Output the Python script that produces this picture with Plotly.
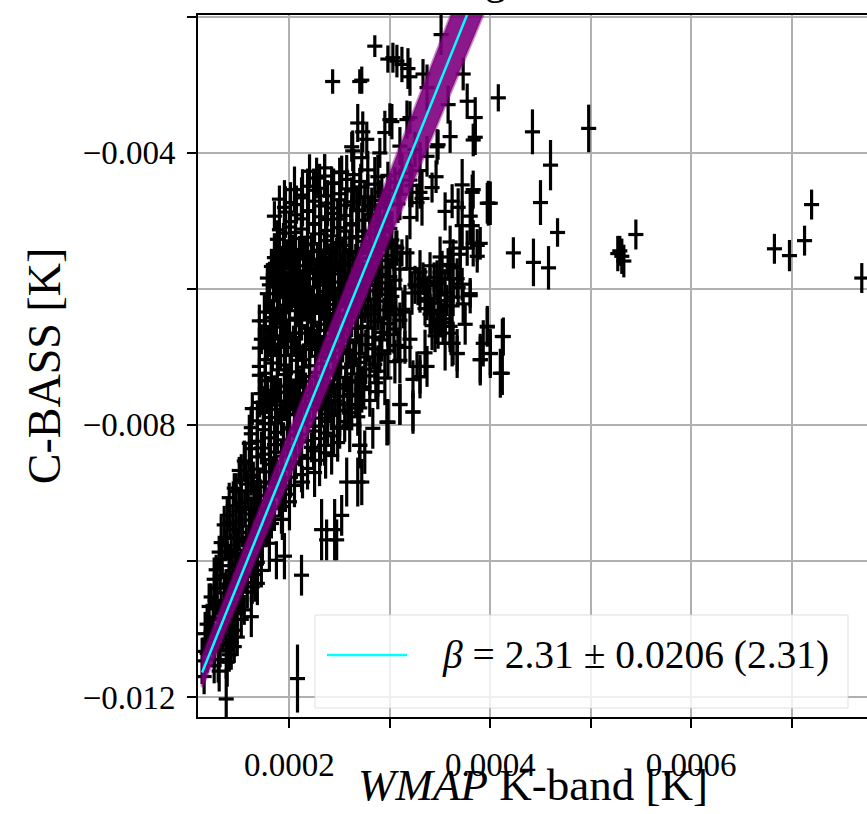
import plotly.graph_objects as go

# ---------------- data (Kelvin) ----------------
# dense part of the cloud, one list per horizontal band
wmap_rows = [
    [2.20e-4, 2.35e-4, 2.50e-4, 2.64e-4, 2.78e-4, 2.98e-4, 3.12e-4, 3.30e-4, 3.46e-4],
    [2.05e-4, 2.18e-4, 2.30e-4, 2.44e-4, 2.57e-4, 2.70e-4, 2.85e-4, 3.00e-4, 3.22e-4, 3.42e-4, 3.72e-4, 3.83e-4],
    [1.90e-4, 2.01e-4, 2.13e-4, 2.25e-4, 2.38e-4, 2.50e-4, 2.62e-4, 2.75e-4, 2.90e-4, 3.08e-4, 3.32e-4, 3.62e-4, 4.00e-4],
    [1.85e-4, 1.96e-4, 2.06e-4, 2.18e-4, 2.30e-4, 2.42e-4, 2.55e-4, 2.67e-4, 2.80e-4, 2.95e-4, 3.55e-4, 3.80e-4],
    [1.90e-4, 2.00e-4, 2.12e-4, 2.25e-4, 2.37e-4, 2.50e-4, 2.62e-4, 2.75e-4, 2.88e-4, 3.00e-4, 3.72e-4],
    [1.88e-4, 2.00e-4, 2.12e-4, 2.24e-4, 2.37e-4, 2.50e-4, 2.62e-4, 2.75e-4, 2.88e-4, 3.02e-4, 3.60e-4, 3.83e-4],
    [1.85e-4, 1.97e-4, 2.10e-4, 2.22e-4, 2.35e-4, 2.47e-4, 2.60e-4, 2.72e-4, 2.85e-4, 2.98e-4, 3.12e-4, 3.50e-4, 3.70e-4, 3.87e-4],
    [1.82e-4, 1.95e-4, 2.08e-4, 2.20e-4, 2.32e-4, 2.45e-4, 2.58e-4, 2.70e-4, 2.82e-4, 2.96e-4, 3.10e-4, 3.40e-4, 3.52e-4, 3.63e-4],
    [1.80e-4, 1.92e-4, 2.05e-4, 2.18e-4, 2.30e-4, 2.43e-4, 2.55e-4, 2.68e-4, 2.80e-4, 2.92e-4, 3.05e-4, 3.25e-4, 3.35e-4, 3.47e-4, 3.60e-4, 3.72e-4],
    [1.78e-4, 1.90e-4, 2.02e-4, 2.15e-4, 2.28e-4, 2.40e-4, 2.52e-4, 2.65e-4, 2.78e-4, 2.90e-4, 3.02e-4, 3.22e-4, 3.38e-4, 3.50e-4, 3.63e-4, 3.80e-4],
    [1.76e-4, 1.88e-4, 2.00e-4, 2.12e-4, 2.25e-4, 2.38e-4, 2.50e-4, 2.62e-4, 2.75e-4, 2.88e-4, 3.00e-4, 3.15e-4, 3.35e-4, 3.48e-4, 3.62e-4],
    [1.75e-4, 1.87e-4, 2.00e-4, 2.12e-4, 2.24e-4, 2.36e-4, 2.48e-4, 2.60e-4, 2.72e-4, 2.85e-4, 2.98e-4, 3.10e-4, 3.42e-4, 3.55e-4, 3.75e-4, 3.97e-4],
    [1.72e-4, 1.85e-4, 1.98e-4, 2.10e-4, 2.22e-4, 2.35e-4, 2.47e-4, 2.60e-4, 2.72e-4, 2.85e-4, 3.00e-4, 3.20e-4, 3.45e-4, 3.62e-4, 4.12e-4],
    [1.70e-4, 1.83e-4, 1.96e-4, 2.08e-4, 2.20e-4, 2.32e-4, 2.45e-4, 2.58e-4, 2.70e-4, 2.83e-4, 2.98e-4, 3.15e-4, 3.35e-4, 3.67e-4, 4.00e-4],
    [1.70e-4, 1.82e-4, 1.95e-4, 2.07e-4, 2.20e-4, 2.32e-4, 2.45e-4, 2.57e-4, 2.70e-4, 2.85e-4, 3.05e-4, 3.27e-4, 3.90e-4],
    [1.70e-4, 1.82e-4, 1.95e-4, 2.07e-4, 2.20e-4, 2.32e-4, 2.44e-4, 2.56e-4, 2.68e-4, 2.80e-4, 2.95e-4, 3.30e-4, 4.12e-4],
    [1.72e-4, 1.85e-4, 1.98e-4, 2.10e-4, 2.22e-4, 2.35e-4, 2.48e-4, 2.60e-4, 2.72e-4, 2.88e-4],
    [1.70e-4, 1.82e-4, 1.95e-4, 2.08e-4, 2.20e-4, 2.32e-4, 2.45e-4, 2.58e-4, 2.70e-4, 3.10e-4],
    [1.68e-4, 1.80e-4, 1.92e-4, 2.05e-4, 2.18e-4, 2.30e-4, 2.42e-4, 2.55e-4, 2.68e-4, 2.98e-4, 3.23e-4],
    [1.62e-4, 1.75e-4, 1.88e-4, 2.00e-4, 2.12e-4, 2.25e-4, 2.38e-4, 2.50e-4],
    [1.60e-4, 1.72e-4, 1.85e-4, 1.98e-4, 2.10e-4, 2.22e-4, 2.35e-4, 2.48e-4, 2.70e-4],
    [1.55e-4, 1.68e-4, 1.80e-4, 1.92e-4, 2.05e-4, 2.18e-4, 2.30e-4, 2.42e-4],
    [1.50e-4, 1.62e-4, 1.75e-4, 1.87e-4, 2.00e-4, 2.12e-4, 2.25e-4],
    [1.45e-4, 1.57e-4, 1.70e-4, 1.82e-4, 1.95e-4, 2.05e-4],
    [1.40e-4, 1.52e-4, 1.65e-4, 1.78e-4, 1.90e-4, 2.00e-4],
    [1.38e-4, 1.50e-4, 1.62e-4, 1.75e-4, 1.85e-4, 1.93e-4],
    [1.35e-4, 1.47e-4, 1.60e-4, 1.72e-4, 1.82e-4],
    [1.32e-4, 1.45e-4, 1.57e-4, 1.70e-4, 1.80e-4],
    [1.30e-4, 1.42e-4, 1.55e-4, 1.67e-4],
    [1.27e-4, 1.40e-4, 1.52e-4, 1.65e-4, 1.72e-4],
    [1.25e-4, 1.37e-4, 1.50e-4, 1.62e-4],
    [1.22e-4, 1.35e-4, 1.47e-4, 1.58e-4],
    [1.20e-4, 1.32e-4, 1.45e-4, 1.55e-4],
    [1.18e-4, 1.30e-4, 1.42e-4, 1.52e-4],
    [1.16e-4, 1.28e-4, 1.40e-4, 1.48e-4],
    [1.14e-4, 1.25e-4, 1.37e-4, 1.45e-4],
    [1.13e-4, 1.25e-4, 1.38e-4],
    [1.15e-4, 1.30e-4],
    [1.37e-4, 1.62e-4],
    # in-between bands
    [2.27e-4, 2.42e-4, 2.57e-4, 2.71e-4, 2.88e-4, 3.05e-4, 3.20e-4],
    [2.12e-4, 2.24e-4, 2.37e-4, 2.51e-4, 2.64e-4, 2.78e-4, 2.92e-4, 3.10e-4],
    [1.95e-4, 2.07e-4, 2.19e-4, 2.31e-4, 2.44e-4, 2.56e-4, 2.69e-4, 2.82e-4, 2.97e-4],
    [2.01e-4, 2.12e-4, 2.24e-4, 2.36e-4, 2.48e-4, 2.61e-4, 2.73e-4, 2.86e-4, 3.20e-4],
    [1.95e-4, 2.06e-4, 2.18e-4, 2.31e-4, 2.43e-4, 2.56e-4, 2.68e-4, 2.81e-4, 2.94e-4],
    [1.94e-4, 2.06e-4, 2.18e-4, 2.30e-4, 2.42e-4, 2.55e-4, 2.67e-4, 2.80e-4, 2.92e-4, 3.06e-4],
    [1.91e-4, 2.03e-4, 2.15e-4, 2.28e-4, 2.40e-4, 2.53e-4, 2.66e-4, 2.78e-4, 2.91e-4, 3.04e-4, 3.58e-4],
    [1.88e-4, 2.01e-4, 2.14e-4, 2.26e-4, 2.38e-4, 2.51e-4, 2.63e-4, 2.76e-4, 2.88e-4, 3.00e-4, 3.30e-4, 3.44e-4],
    [1.86e-4, 1.98e-4, 2.11e-4, 2.24e-4, 2.36e-4, 2.49e-4, 2.61e-4, 2.74e-4, 2.86e-4, 2.98e-4, 3.28e-4, 3.55e-4, 3.68e-4],
    [1.84e-4, 1.96e-4, 2.08e-4, 2.21e-4, 2.34e-4, 2.46e-4, 2.58e-4, 2.71e-4, 2.84e-4, 2.96e-4, 3.44e-4, 3.57e-4],
    [1.82e-4, 1.94e-4, 2.06e-4, 2.18e-4, 2.31e-4, 2.44e-4, 2.56e-4, 2.68e-4, 2.81e-4, 2.94e-4, 3.06e-4, 3.40e-4, 3.52e-4],
    [1.81e-4, 1.93e-4, 2.06e-4, 2.18e-4, 2.30e-4, 2.42e-4, 2.54e-4, 2.66e-4, 2.78e-4, 2.91e-4, 3.04e-4, 3.48e-4, 3.60e-4],
    [1.78e-4, 1.91e-4, 2.04e-4, 2.16e-4, 2.28e-4, 2.41e-4, 2.53e-4, 2.66e-4, 2.78e-4, 2.92e-4, 3.08e-4, 3.55e-4],
    [1.76e-4, 1.89e-4, 2.02e-4, 2.14e-4, 2.26e-4, 2.38e-4, 2.51e-4, 2.64e-4, 2.76e-4, 2.90e-4, 3.10e-4],
    [1.76e-4, 1.88e-4, 2.01e-4, 2.13e-4, 2.26e-4, 2.38e-4, 2.50e-4, 2.62e-4, 2.75e-4, 2.88e-4],
    [1.76e-4, 1.88e-4, 2.01e-4, 2.14e-4, 2.26e-4, 2.38e-4, 2.50e-4, 2.62e-4, 2.74e-4, 2.86e-4],
    [1.78e-4, 1.91e-4, 2.04e-4, 2.16e-4, 2.28e-4, 2.41e-4, 2.54e-4, 2.66e-4, 2.80e-4],
    [1.75e-4, 1.87e-4, 2.00e-4, 2.12e-4, 2.25e-4, 2.38e-4, 2.50e-4, 2.62e-4],
    [1.62e-4, 1.74e-4, 1.86e-4, 1.98e-4, 2.11e-4, 2.24e-4, 2.36e-4, 2.48e-4, 2.60e-4],
    [1.68e-4, 1.81e-4, 1.94e-4, 2.06e-4, 2.18e-4, 2.31e-4, 2.44e-4],
    [1.62e-4, 1.74e-4, 1.86e-4, 1.99e-4, 2.12e-4, 2.24e-4, 2.36e-4],
    [1.56e-4, 1.68e-4, 1.81e-4, 1.93e-4, 2.06e-4, 2.18e-4],
    [1.52e-4, 1.64e-4, 1.76e-4, 1.88e-4, 2.01e-4, 2.13e-4],
    [1.47e-4, 1.59e-4, 1.71e-4, 1.84e-4, 1.96e-4],
    [1.44e-4, 1.56e-4, 1.68e-4, 1.81e-4, 1.92e-4],
    [1.41e-4, 1.53e-4, 1.66e-4, 1.78e-4],
    [1.38e-4, 1.50e-4, 1.63e-4, 1.76e-4],
    [1.36e-4, 1.48e-4, 1.61e-4, 1.73e-4],
    [1.33e-4, 1.46e-4, 1.58e-4, 1.68e-4],
    [1.31e-4, 1.43e-4, 1.56e-4, 1.66e-4],
    [1.28e-4, 1.40e-4, 1.53e-4, 1.63e-4],
    [1.26e-4, 1.38e-4, 1.50e-4],
    [1.24e-4, 1.36e-4, 1.48e-4],
    [1.22e-4, 1.34e-4, 1.45e-4],
    [1.20e-4, 1.31e-4, 1.42e-4],
    [1.18e-4, 1.29e-4, 1.40e-4],
]

cbass_rows = [
    [-4.27e-3, -4.34e-3, -4.29e-3, -4.32e-3, -4.25e-3, -4.33e-3, -4.30e-3, -4.26e-3, -4.35e-3],
    [-4.54e-3, -4.49e-3, -4.52e-3, -4.45e-3, -4.53e-3, -4.50e-3, -4.46e-3, -4.55e-3, -4.48e-3, -4.51e-3, -4.47e-3, -4.54e-3],
    [-4.68e-3, -4.73e-3, -4.66e-3, -4.71e-3, -4.74e-3, -4.69e-3, -4.72e-3, -4.65e-3, -4.70e-3, -4.75e-3, -4.67e-3, -4.71e-3, -4.74e-3],
    [-4.93e-3, -4.87e-3, -4.91e-3, -4.86e-3, -4.94e-3, -4.89e-3, -4.92e-3, -4.85e-3, -4.90e-3, -4.95e-3, -4.86e-3, -4.93e-3],
    [-5.13e-3, -5.09e-3, -5.12e-3, -5.05e-3, -5.14e-3, -5.10e-3, -5.06e-3, -5.15e-3, -5.08e-3, -5.11e-3, -5.07e-3],
    [-5.27e-3, -5.31e-3, -5.26e-3, -5.34e-3, -5.29e-3, -5.32e-3, -5.25e-3, -5.30e-3, -5.35e-3, -5.28e-3, -5.31e-3, -5.33e-3],
    [-5.54e-3, -5.49e-3, -5.52e-3, -5.45e-3, -5.53e-3, -5.50e-3, -5.46e-3, -5.55e-3, -5.48e-3, -5.51e-3, -5.47e-3, -5.53e-3, -5.49e-3, -5.52e-3],
    [-5.67e-3, -5.71e-3, -5.66e-3, -5.74e-3, -5.69e-3, -5.72e-3, -5.65e-3, -5.70e-3, -5.75e-3, -5.68e-3, -5.71e-3, -5.66e-3, -5.74e-3, -5.69e-3],
    [-5.94e-3, -5.89e-3, -5.92e-3, -5.85e-3, -5.93e-3, -5.90e-3, -5.86e-3, -5.95e-3, -5.88e-3, -5.91e-3, -5.87e-3, -5.94e-3, -5.89e-3, -5.92e-3, -5.85e-3, -5.93e-3],
    [-6.07e-3, -6.11e-3, -6.06e-3, -6.14e-3, -6.09e-3, -6.12e-3, -6.05e-3, -6.10e-3, -6.15e-3, -6.08e-3, -6.11e-3, -6.06e-3, -6.14e-3, -6.09e-3, -6.12e-3, -6.07e-3],
    [-6.34e-3, -6.29e-3, -6.32e-3, -6.25e-3, -6.33e-3, -6.30e-3, -6.26e-3, -6.35e-3, -6.28e-3, -6.31e-3, -6.27e-3, -6.34e-3, -6.29e-3, -6.32e-3, -6.25e-3],
    [-6.47e-3, -6.51e-3, -6.46e-3, -6.54e-3, -6.49e-3, -6.52e-3, -6.45e-3, -6.50e-3, -6.55e-3, -6.48e-3, -6.51e-3, -6.46e-3, -6.54e-3, -6.49e-3, -6.52e-3, -6.56e-3],
    [-6.74e-3, -6.69e-3, -6.72e-3, -6.65e-3, -6.73e-3, -6.70e-3, -6.66e-3, -6.75e-3, -6.68e-3, -6.71e-3, -6.67e-3, -6.74e-3, -6.69e-3, -6.80e-3, -6.70e-3],
    [-6.87e-3, -6.91e-3, -6.86e-3, -6.94e-3, -6.89e-3, -6.92e-3, -6.85e-3, -6.90e-3, -6.95e-3, -6.88e-3, -6.91e-3, -6.86e-3, -6.94e-3, -6.95e-3, -6.95e-3],
    [-7.14e-3, -7.09e-3, -7.12e-3, -7.05e-3, -7.13e-3, -7.10e-3, -7.06e-3, -7.15e-3, -7.08e-3, -7.11e-3, -7.07e-3, -7.14e-3, -7.04e-3],
    [-7.27e-3, -7.31e-3, -7.26e-3, -7.34e-3, -7.29e-3, -7.32e-3, -7.25e-3, -7.30e-3, -7.35e-3, -7.28e-3, -7.31e-3, -7.29e-3, -7.24e-3],
    [-7.54e-3, -7.49e-3, -7.52e-3, -7.45e-3, -7.53e-3, -7.50e-3, -7.46e-3, -7.55e-3, -7.48e-3, -7.51e-3],
    [-7.67e-3, -7.71e-3, -7.66e-3, -7.74e-3, -7.69e-3, -7.72e-3, -7.65e-3, -7.70e-3, -7.75e-3, -7.70e-3],
    [-7.94e-3, -7.89e-3, -7.92e-3, -7.85e-3, -7.93e-3, -7.90e-3, -7.86e-3, -7.95e-3, -7.88e-3, -7.96e-3, -7.81e-3],
    [-8.13e-3, -8.07e-3, -8.11e-3, -8.06e-3, -8.14e-3, -8.09e-3, -8.12e-3, -8.05e-3],
    [-8.27e-3, -8.34e-3, -8.29e-3, -8.32e-3, -8.25e-3, -8.33e-3, -8.30e-3, -8.26e-3, -8.30e-3],
    [-8.53e-3, -8.47e-3, -8.51e-3, -8.46e-3, -8.54e-3, -8.49e-3, -8.52e-3, -8.45e-3],
    [-8.67e-3, -8.74e-3, -8.69e-3, -8.72e-3, -8.65e-3, -8.73e-3, -8.70e-3],
    [-8.93e-3, -8.87e-3, -8.91e-3, -8.86e-3, -8.94e-3, -8.89e-3],
    [-9.07e-3, -9.14e-3, -9.09e-3, -9.12e-3, -9.05e-3, -9.13e-3],
    [-9.33e-3, -9.27e-3, -9.31e-3, -9.26e-3, -9.34e-3, -9.39e-3],
    [-9.47e-3, -9.54e-3, -9.49e-3, -9.52e-3, -9.45e-3],
    [-9.73e-3, -9.67e-3, -9.71e-3, -9.66e-3, -9.74e-3],
    [-9.87e-3, -9.94e-3, -9.89e-3, -9.92e-3],
    [-10.13e-3, -10.07e-3, -10.11e-3, -10.06e-3, -10.14e-3],
    [-10.27e-3, -10.34e-3, -10.29e-3, -10.32e-3],
    [-10.53e-3, -10.47e-3, -10.51e-3, -10.46e-3],
    [-10.67e-3, -10.74e-3, -10.69e-3, -10.72e-3],
    [-10.93e-3, -10.87e-3, -10.91e-3, -10.86e-3],
    [-11.07e-3, -11.14e-3, -11.09e-3, -11.12e-3],
    [-11.33e-3, -11.27e-3, -11.31e-3, -11.26e-3],
    [-11.47e-3, -11.54e-3, -11.49e-3],
    [-11.70e-3, -11.62e-3],
    [-12.03e-3, -10.82e-3],
    # in-between bands
    [-4.37e-3, -4.44e-3, -4.39e-3, -4.42e-3, -4.35e-3, -4.43e-3, -4.40e-3],
    [-4.62e-3, -4.55e-3, -4.63e-3, -4.60e-3, -4.56e-3, -4.65e-3, -4.58e-3, -4.61e-3],
    [-4.80e-3, -4.76e-3, -4.85e-3, -4.78e-3, -4.81e-3, -4.77e-3, -4.84e-3, -4.78e-3, -4.77e-3],
    [-5.01e-3, -4.97e-3, -5.04e-3, -4.98e-3, -4.97e-3, -5.04e-3, -4.99e-3, -5.02e-3, -4.95e-3],
    [-5.18e-3, -5.17e-3, -5.24e-3, -5.19e-3, -5.22e-3, -5.15e-3, -5.23e-3, -5.20e-3, -5.16e-3],
    [-5.39e-3, -5.42e-3, -5.35e-3, -5.43e-3, -5.40e-3, -5.36e-3, -5.45e-3, -5.38e-3, -5.41e-3, -5.37e-3],
    [-5.63e-3, -5.60e-3, -5.56e-3, -5.65e-3, -5.58e-3, -5.61e-3, -5.57e-3, -5.64e-3, -5.58e-3, -5.57e-3, -5.64e-3],
    [-5.85e-3, -5.78e-3, -5.81e-3, -5.77e-3, -5.84e-3, -5.78e-3, -5.77e-3, -5.84e-3, -5.79e-3, -5.82e-3, -5.75e-3, -5.83e-3],
    [-5.97e-3, -6.04e-3, -5.98e-3, -5.97e-3, -6.04e-3, -5.99e-3, -6.02e-3, -5.95e-3, -6.03e-3, -6.00e-3, -5.96e-3, -6.05e-3, -5.98e-3],
    [-6.17e-3, -6.24e-3, -6.19e-3, -6.22e-3, -6.15e-3, -6.23e-3, -6.20e-3, -6.16e-3, -6.25e-3, -6.18e-3, -6.21e-3, -6.17e-3],
    [-6.42e-3, -6.35e-3, -6.43e-3, -6.40e-3, -6.36e-3, -6.45e-3, -6.38e-3, -6.41e-3, -6.37e-3, -6.44e-3, -6.38e-3, -6.37e-3, -6.44e-3],
    [-6.60e-3, -6.56e-3, -6.65e-3, -6.58e-3, -6.61e-3, -6.57e-3, -6.64e-3, -6.58e-3, -6.57e-3, -6.64e-3, -6.59e-3, -6.62e-3, -6.55e-3],
    [-6.78e-3, -6.81e-3, -6.77e-3, -6.84e-3, -6.78e-3, -6.77e-3, -6.84e-3, -6.79e-3, -6.82e-3, -6.75e-3, -6.83e-3, -6.80e-3],
    [-7.04e-3, -6.98e-3, -6.97e-3, -7.04e-3, -6.99e-3, -7.02e-3, -6.95e-3, -7.03e-3, -7.00e-3, -6.96e-3, -7.05e-3],
    [-7.24e-3, -7.19e-3, -7.22e-3, -7.15e-3, -7.23e-3, -7.20e-3, -7.16e-3, -7.25e-3, -7.18e-3, -7.21e-3],
    [-7.35e-3, -7.43e-3, -7.40e-3, -7.36e-3, -7.45e-3, -7.38e-3, -7.41e-3, -7.37e-3, -7.44e-3, -7.38e-3],
    [-7.56e-3, -7.65e-3, -7.58e-3, -7.61e-3, -7.57e-3, -7.64e-3, -7.58e-3, -7.57e-3, -7.64e-3],
    [-7.81e-3, -7.77e-3, -7.84e-3, -7.78e-3, -7.77e-3, -7.84e-3, -7.79e-3, -7.82e-3],
    [-8.04e-3, -7.98e-3, -7.97e-3, -8.04e-3, -7.99e-3, -8.02e-3, -7.95e-3, -8.03e-3, -8.00e-3],
    [-8.24e-3, -8.19e-3, -8.22e-3, -8.15e-3, -8.23e-3, -8.20e-3, -8.16e-3],
    [-8.35e-3, -8.43e-3, -8.40e-3, -8.36e-3, -8.45e-3, -8.38e-3, -8.41e-3],
    [-8.56e-3, -8.65e-3, -8.58e-3, -8.61e-3, -8.57e-3, -8.64e-3],
    [-8.81e-3, -8.77e-3, -8.84e-3, -8.78e-3, -8.77e-3, -8.84e-3],
    [-8.98e-3, -8.97e-3, -9.04e-3, -8.99e-3, -9.02e-3],
    [-9.19e-3, -9.22e-3, -9.15e-3, -9.23e-3, -9.20e-3],
    [-9.43e-3, -9.40e-3, -9.36e-3, -9.45e-3],
    [-9.65e-3, -9.58e-3, -9.61e-3, -9.57e-3],
    [-9.77e-3, -9.84e-3, -9.78e-3, -9.77e-3],
    [-9.97e-3, -10.04e-3, -9.99e-3, -10.02e-3],
    [-10.22e-3, -10.15e-3, -10.23e-3, -10.20e-3],
    [-10.40e-3, -10.36e-3, -10.45e-3, -10.38e-3],
    [-10.58e-3, -10.61e-3, -10.57e-3],
    [-10.84e-3, -10.78e-3, -10.77e-3],
    [-11.04e-3, -10.99e-3, -11.02e-3],
    [-11.15e-3, -11.23e-3, -11.20e-3],
    [-11.36e-3, -11.45e-3, -11.38e-3],
]

cbass_err_rows = [
    [2.5e-4, 3.2e-4, 2.2e-4, 3.8e-4, 2.8e-4, 2.0e-4, 3.0e-4, 4.2e-4, 2.4e-4],
    [3.4e-4, 2.6e-4, 3.6e-4, 2.2e-4, 3.0e-4, 2.8e-4, 4.0e-4, 2.5e-4, 3.2e-4, 2.2e-4, 3.8e-4, 2.8e-4],
    [2.0e-4, 3.0e-4, 4.2e-4, 2.4e-4, 3.4e-4, 2.6e-4, 3.6e-4, 2.2e-4, 3.0e-4, 2.8e-4, 4.0e-4, 2.5e-4, 3.2e-4],
    [2.2e-4, 3.8e-4, 2.8e-4, 2.0e-4, 3.0e-4, 4.2e-4, 2.4e-4, 3.4e-4, 2.6e-4, 3.6e-4, 2.8e-4, 4.0e-4],
    [3.2e-4, 2.2e-4, 3.8e-4, 2.8e-4, 2.0e-4, 3.0e-4, 4.2e-4, 2.4e-4, 3.4e-4, 2.6e-4, 3.6e-4],
    [2.8e-4, 4.0e-4, 2.5e-4, 3.2e-4, 2.2e-4, 3.8e-4, 2.8e-4, 2.0e-4, 3.0e-4, 4.2e-4, 2.4e-4, 3.4e-4],
    [3.6e-4, 2.2e-4, 3.0e-4, 2.8e-4, 4.0e-4, 2.5e-4, 3.2e-4, 2.2e-4, 3.8e-4, 2.8e-4, 2.0e-4, 3.0e-4, 4.2e-4, 2.4e-4],
    [2.6e-4, 3.6e-4, 2.2e-4, 3.0e-4, 2.8e-4, 4.0e-4, 2.5e-4, 3.2e-4, 2.2e-4, 3.8e-4, 2.8e-4, 2.0e-4, 3.0e-4, 4.2e-4],
    [3.4e-4, 2.6e-4, 3.6e-4, 2.2e-4, 3.0e-4, 2.8e-4, 4.0e-4, 2.5e-4, 3.2e-4, 2.2e-4, 3.8e-4, 2.8e-4, 2.0e-4, 3.0e-4, 4.2e-4, 2.4e-4],
    [3.0e-4, 4.2e-4, 2.4e-4, 3.4e-4, 2.6e-4, 3.6e-4, 2.2e-4, 3.0e-4, 2.8e-4, 4.0e-4, 2.5e-4, 3.2e-4, 2.2e-4, 3.8e-4, 2.8e-4, 2.0e-4],
    [2.8e-4, 2.0e-4, 3.0e-4, 4.2e-4, 2.4e-4, 3.4e-4, 2.6e-4, 3.6e-4, 2.2e-4, 3.0e-4, 2.8e-4, 4.0e-4, 2.5e-4, 3.2e-4, 2.2e-4],
    [4.0e-4, 2.5e-4, 3.2e-4, 2.2e-4, 3.8e-4, 2.8e-4, 2.0e-4, 3.0e-4, 4.2e-4, 2.4e-4, 3.4e-4, 2.6e-4, 3.6e-4, 2.2e-4, 3.0e-4, 2.8e-4],
    [2.2e-4, 3.0e-4, 2.8e-4, 4.0e-4, 2.5e-4, 3.2e-4, 2.2e-4, 3.8e-4, 2.8e-4, 2.0e-4, 3.0e-4, 4.2e-4, 2.4e-4, 3.4e-4, 2.6e-4],
    [3.0e-4, 2.8e-4, 4.0e-4, 2.5e-4, 3.2e-4, 2.2e-4, 3.8e-4, 2.8e-4, 2.0e-4, 3.0e-4, 4.2e-4, 2.4e-4, 3.4e-4, 2.6e-4, 3.6e-4],
    [4.2e-4, 2.4e-4, 3.4e-4, 2.6e-4, 3.6e-4, 2.2e-4, 3.0e-4, 2.8e-4, 4.0e-4, 2.5e-4, 3.2e-4, 2.2e-4, 3.8e-4],
    [2.0e-4, 3.0e-4, 4.2e-4, 2.4e-4, 3.4e-4, 2.6e-4, 3.6e-4, 2.2e-4, 3.0e-4, 2.8e-4, 4.0e-4, 2.5e-4, 3.2e-4],
    [3.2e-4, 2.2e-4, 3.8e-4, 2.8e-4, 2.0e-4, 3.0e-4, 4.2e-4, 2.4e-4, 3.4e-4, 2.6e-4],
    [2.2e-4, 3.0e-4, 2.8e-4, 4.0e-4, 2.5e-4, 3.2e-4, 2.2e-4, 3.8e-4, 2.8e-4, 3.0e-4],
    [3.0e-4, 4.2e-4, 2.4e-4, 3.4e-4, 2.6e-4, 3.6e-4, 2.2e-4, 3.0e-4, 2.8e-4, 3.2e-4, 2.8e-4],
    [4.0e-4, 2.5e-4, 3.2e-4, 2.2e-4, 3.8e-4, 2.8e-4, 2.0e-4, 3.0e-4],
    [4.2e-4, 2.4e-4, 3.4e-4, 2.6e-4, 3.6e-4, 2.2e-4, 3.0e-4, 2.8e-4, 3.4e-4],
    [3.0e-4, 2.8e-4, 4.0e-4, 2.5e-4, 3.2e-4, 2.2e-4, 3.8e-4, 2.8e-4],
    [2.0e-4, 3.0e-4, 4.2e-4, 2.4e-4, 3.4e-4, 2.6e-4, 3.6e-4],
    [2.2e-4, 3.0e-4, 2.8e-4, 4.0e-4, 2.5e-4, 3.2e-4],
    [2.2e-4, 3.8e-4, 2.8e-4, 2.0e-4, 3.0e-4, 4.2e-4],
    [2.4e-4, 3.4e-4, 2.6e-4, 3.6e-4, 2.2e-4, 3.0e-4],
    [2.8e-4, 4.0e-4, 2.5e-4, 3.2e-4, 2.2e-4],
    [3.8e-4, 2.8e-4, 2.0e-4, 3.0e-4, 4.2e-4],
    [2.4e-4, 3.4e-4, 2.6e-4, 3.6e-4],
    [2.2e-4, 3.0e-4, 2.8e-4, 4.0e-4, 2.5e-4],
    [3.2e-4, 2.2e-4, 3.8e-4, 2.8e-4],
    [2.0e-4, 3.0e-4, 4.2e-4, 2.4e-4],
    [3.4e-4, 2.6e-4, 3.6e-4, 2.2e-4],
    [3.0e-4, 2.8e-4, 4.0e-4, 2.5e-4],
    [3.2e-4, 2.2e-4, 3.8e-4, 2.8e-4],
    [2.0e-4, 3.0e-4, 4.2e-4, 2.4e-4],
    [3.4e-4, 2.6e-4, 3.6e-4],
    [2.6e-4, 3.0e-4],
    [4.5e-4, 3.0e-4],
    # in-between bands
    [3.0e-4, 2.4e-4, 3.6e-4, 2.6e-4, 3.2e-4, 2.2e-4, 4.0e-4],
    [2.6e-4, 3.2e-4, 2.2e-4, 4.0e-4, 2.8e-4, 3.4e-4, 2.5e-4, 3.8e-4],
    [4.0e-4, 2.8e-4, 3.4e-4, 2.5e-4, 3.8e-4, 2.3e-4, 3.1e-4, 2.7e-4, 3.0e-4],
    [3.8e-4, 2.3e-4, 3.1e-4, 2.7e-4, 3.0e-4, 2.4e-4, 3.6e-4, 2.6e-4, 3.2e-4],
    [2.7e-4, 3.0e-4, 2.4e-4, 3.6e-4, 2.6e-4, 3.2e-4, 2.2e-4, 4.0e-4, 2.8e-4],
    [3.6e-4, 2.6e-4, 3.2e-4, 2.2e-4, 4.0e-4, 2.8e-4, 3.4e-4, 2.5e-4, 3.8e-4, 2.3e-4],
    [2.2e-4, 4.0e-4, 2.8e-4, 3.4e-4, 2.5e-4, 3.8e-4, 2.3e-4, 3.1e-4, 2.7e-4, 3.0e-4, 2.4e-4],
    [3.4e-4, 2.5e-4, 3.8e-4, 2.3e-4, 3.1e-4, 2.7e-4, 3.0e-4, 2.4e-4, 3.6e-4, 2.6e-4, 3.2e-4, 2.2e-4],
    [2.3e-4, 3.1e-4, 2.7e-4, 3.0e-4, 2.4e-4, 3.6e-4, 2.6e-4, 3.2e-4, 2.2e-4, 4.0e-4, 2.8e-4, 3.4e-4, 2.5e-4],
    [3.0e-4, 2.4e-4, 3.6e-4, 2.6e-4, 3.2e-4, 2.2e-4, 4.0e-4, 2.8e-4, 3.4e-4, 2.5e-4, 3.8e-4, 2.3e-4],
    [2.6e-4, 3.2e-4, 2.2e-4, 4.0e-4, 2.8e-4, 3.4e-4, 2.5e-4, 3.8e-4, 2.3e-4, 3.1e-4, 2.7e-4, 3.0e-4, 2.4e-4],
    [4.0e-4, 2.8e-4, 3.4e-4, 2.5e-4, 3.8e-4, 2.3e-4, 3.1e-4, 2.7e-4, 3.0e-4, 2.4e-4, 3.6e-4, 2.6e-4, 3.2e-4],
    [2.5e-4, 3.8e-4, 2.3e-4, 3.1e-4, 2.7e-4, 3.0e-4, 2.4e-4, 3.6e-4, 2.6e-4, 3.2e-4, 2.2e-4, 4.0e-4],
    [3.1e-4, 2.7e-4, 3.0e-4, 2.4e-4, 3.6e-4, 2.6e-4, 3.2e-4, 2.2e-4, 4.0e-4, 2.8e-4, 3.4e-4],
    [2.4e-4, 3.6e-4, 2.6e-4, 3.2e-4, 2.2e-4, 4.0e-4, 2.8e-4, 3.4e-4, 2.5e-4, 3.8e-4],
    [3.2e-4, 2.2e-4, 4.0e-4, 2.8e-4, 3.4e-4, 2.5e-4, 3.8e-4, 2.3e-4, 3.1e-4, 2.7e-4],
    [2.8e-4, 3.4e-4, 2.5e-4, 3.8e-4, 2.3e-4, 3.1e-4, 2.7e-4, 3.0e-4, 2.4e-4],
    [3.8e-4, 2.3e-4, 3.1e-4, 2.7e-4, 3.0e-4, 2.4e-4, 3.6e-4, 2.6e-4],
    [3.1e-4, 2.7e-4, 3.0e-4, 2.4e-4, 3.6e-4, 2.6e-4, 3.2e-4, 2.2e-4, 4.0e-4],
    [2.4e-4, 3.6e-4, 2.6e-4, 3.2e-4, 2.2e-4, 4.0e-4, 2.8e-4],
    [3.2e-4, 2.2e-4, 4.0e-4, 2.8e-4, 3.4e-4, 2.5e-4, 3.8e-4],
    [2.8e-4, 3.4e-4, 2.5e-4, 3.8e-4, 2.3e-4, 3.1e-4],
    [3.8e-4, 2.3e-4, 3.1e-4, 2.7e-4, 3.0e-4, 2.4e-4],
    [2.7e-4, 3.0e-4, 2.4e-4, 3.6e-4, 2.6e-4],
    [3.6e-4, 2.6e-4, 3.2e-4, 2.2e-4, 4.0e-4],
    [2.2e-4, 4.0e-4, 2.8e-4, 3.4e-4],
    [3.4e-4, 2.5e-4, 3.8e-4, 2.3e-4],
    [2.3e-4, 3.1e-4, 2.7e-4, 3.0e-4],
    [3.0e-4, 2.4e-4, 3.6e-4, 2.6e-4],
    [2.6e-4, 3.2e-4, 2.2e-4, 4.0e-4],
    [4.0e-4, 2.8e-4, 3.4e-4, 2.5e-4],
    [2.5e-4, 3.8e-4, 2.3e-4],
    [3.1e-4, 2.7e-4, 3.0e-4],
    [2.4e-4, 3.6e-4, 2.6e-4],
    [3.2e-4, 2.2e-4, 4.0e-4],
    [2.8e-4, 3.4e-4, 2.5e-4],
]

# sparse points above the main cloud
wmap_upper = [2.85e-4, 2.43e-4, 2.70e-4, 2.98e-4, 3.03e-4, 3.07e-4, 3.12e-4, 3.18e-4, 3.20e-4, 3.33e-4,
              3.37e-4, 3.51e-4, 3.73e-4, 3.77e-4, 3.85e-4, 3.85e-4, 3.58e-4, 3.60e-4, 3.48e-4, 3.20e-4,
              3.02e-4, 2.73e-4, 2.72e-4, 4.08e-4, 2.68e-4, 2.62e-4, 2.35e-4, 2.52e-4, 2.72e-4, 2.77e-4,
              2.63e-4, 3.00e-4, 3.17e-4, 3.37e-4, 3.47e-4, 3.83e-4, 2.90e-4, 2.95e-4, 3.10e-4, 3.25e-4]
cbass_upper = [-2.43e-3, -2.95e-3, -2.95e-3, -2.62e-3, -2.60e-3, -2.65e-3, -2.70e-3, -2.76e-3, -2.88e-3, -2.84e-3,
               -3.04e-3, -2.26e-3, -2.84e-3, -3.24e-3, -3.48e-3, -3.77e-3, -3.29e-3, -3.76e-3, -3.88e-3, -3.48e-3,
               -3.54e-3, -3.69e-3, -2.93e-3, -3.19e-3, -3.56e-3, -3.91e-3, -4.22e-3, -4.28e-3, -4.07e-3, -3.80e-3,
               -3.97e-3, -3.51e-3, -3.51e-3, -4.05e-3, -3.91e-3, -3.81e-3, -4.00e-3, -3.70e-3, -3.90e-3, -3.95e-3]
cbass_err_upper = [1.6e-4, 1.8e-4, 1.8e-4, 2.0e-4, 2.2e-4, 2.4e-4, 2.6e-4, 3.0e-4, 2.8e-4, 2.2e-4,
                   3.4e-4, 3.0e-4, 2.4e-4, 2.6e-4, 3.0e-4, 2.6e-4, 2.8e-4, 2.4e-4, 2.2e-4, 2.4e-4,
                   2.6e-4, 3.0e-4, 2.0e-4, 2.0e-4, 2.8e-4, 2.2e-4, 2.0e-4, 2.4e-4, 2.2e-4, 2.6e-4,
                   3.0e-4, 2.4e-4, 2.8e-4, 3.0e-4, 2.6e-4, 2.4e-4, 2.2e-4, 3.2e-4, 2.8e-4, 2.6e-4]

# isolated points on the right-hand side
wmap_right = [4.42e-4, 4.98e-4, 4.60e-4, 4.50e-4, 3.98e-4, 4.67e-4, 4.23e-4, 4.43e-4, 4.58e-4, 3.90e-4,
              5.27e-4, 5.29e-4, 5.31e-4, 5.33e-4, 5.45e-4, 6.83e-4, 6.98e-4, 7.13e-4, 7.20e-4, 7.70e-4]
cbass_right = [-3.69e-3, -3.64e-3, -4.18e-3, -4.73e-3, -4.74e-3, -5.17e-3, -5.47e-3, -5.61e-3, -5.69e-3, -5.33e-3,
               -5.48e-3, -5.44e-3, -5.52e-3, -5.59e-3, -5.20e-3, -5.41e-3, -5.51e-3, -5.29e-3, -4.76e-3, -5.84e-3]
cbass_err_right = [3.3e-4, 3.5e-4, 3.7e-4, 3.3e-4, 3.3e-4, 2.1e-4, 2.3e-4, 3.5e-4, 3.2e-4, 2.4e-4,
                   2.6e-4, 2.2e-4, 2.6e-4, 2.4e-4, 2.2e-4, 2.2e-4, 2.3e-4, 2.2e-4, 2.2e-4, 2.2e-4]

# right-hand lobe of the cloud
wmap_lobe = [3.82e-4, 3.97e-4, 3.68e-4, 3.82e-4, 3.87e-4, 3.77e-4, 3.70e-4, 3.60e-4, 3.50e-4, 3.67e-4,
             3.80e-4, 3.73e-4, 3.47e-4, 3.40e-4, 3.33e-4, 3.30e-4, 3.37e-4, 3.50e-4, 3.47e-4, 3.53e-4,
             3.60e-4, 3.63e-4, 3.67e-4, 3.97e-4, 3.93e-4, 4.00e-4, 4.13e-4, 4.10e-4, 3.90e-4, 3.37e-4,
             3.30e-4, 3.23e-4, 3.17e-4, 3.20e-4, 3.07e-4, 3.30e-4, 3.27e-4, 3.10e-4, 3.23e-4, 2.97e-4,
             3.05e-4, 3.13e-4]
cbass_lobe = [-4.58e-3, -4.74e-3, -4.80e-3, -5.07e-3, -5.36e-3, -5.40e-3, -5.40e-3, -5.66e-3, -5.76e-3, -5.85e-3,
              -6.10e-3, -6.22e-3, -5.90e-3, -5.95e-3, -5.85e-3, -6.05e-3, -6.18e-3, -6.36e-3, -6.55e-3, -6.50e-3,
              -6.65e-3, -6.80e-3, -6.95e-3, -6.55e-3, -6.80e-3, -6.95e-3, -6.70e-3, -7.24e-3, -7.04e-3, -7.14e-3,
              -7.29e-3, -7.33e-3, -5.47e-3, -5.70e-3, -5.40e-3, -4.58e-3, -4.73e-3, -7.70e-3, -7.81e-3, -7.96e-3,
              -6.00e-3, -6.30e-3]
cbass_err_lobe = [2.6e-4, 3.0e-4, 2.8e-4, 3.2e-4, 2.4e-4, 2.6e-4, 3.0e-4, 2.8e-4, 2.4e-4, 3.0e-4,
                  2.6e-4, 2.8e-4, 3.2e-4, 2.6e-4, 2.4e-4, 3.0e-4, 2.8e-4, 3.4e-4, 2.6e-4, 3.0e-4,
                  2.8e-4, 3.2e-4, 3.6e-4, 3.0e-4, 3.4e-4, 3.2e-4, 2.8e-4, 3.6e-4, 3.4e-4, 3.0e-4,
                  3.2e-4, 2.8e-4, 2.6e-4, 3.0e-4, 2.6e-4, 2.4e-4, 2.8e-4, 3.0e-4, 3.2e-4, 3.4e-4,
                  2.6e-4, 2.8e-4]

# scattered points below / right of the lower cloud
wmap_lower = [1.93e-4, 1.95e-4, 2.12e-4, 2.32e-4, 2.45e-4, 1.68e-4, 1.87e-4, 2.08e-4, 2.57e-4, 2.68e-4,
              2.52e-4, 2.75e-4, 2.70e-4, 2.72e-4, 2.37e-4, 2.47e-4, 1.63e-4, 1.78e-4, 1.70e-4, 2.83e-4,
              2.98e-4]
cbass_lower = [-9.39e-3, -9.93e-3, -10.21e-3, -9.54e-3, -9.54e-3, -10.33e-3, -9.99e-3, -11.73e-3, -8.84e-3, -8.84e-3,
               -9.33e-3, -8.40e-3, -8.30e-3, -8.84e-3, -9.69e-3, -9.69e-3, -7.76e-3, -5.84e-3, -6.47e-3, -8.05e-3,
               -7.96e-3]
cbass_err_lower = [3.0e-4, 3.4e-4, 3.0e-4, 4.5e-4, 4.5e-4, 3.2e-4, 2.8e-4, 5.0e-4, 3.6e-4, 3.6e-4,
                   3.0e-4, 3.2e-4, 3.0e-4, 3.4e-4, 3.0e-4, 3.0e-4, 2.4e-4, 2.2e-4, 2.4e-4, 3.0e-4,
                   3.4e-4]

wmap_err = 7.5e-6          # WMAP K-band uncertainty [K]

# fitted relation (best fit) and spread of the posterior samples
fit_slope, fit_offset = 36.65, -0.015781
band_steep_slope, band_steep_offset = 38.05, -0.015705
band_flat_slope, band_flat_offset = 35.34, -0.015849
fit_label = "<i>β</i> = 2.31 ± 0.0206 (2.31)"

x_tick_vals = [0.0002, 0.0003, 0.0004, 0.0005, 0.0006, 0.0007]
x_tick_text = ["0.0002", "", "0.0004", "", "0.0006", ""]
y_tick_vals = [-0.012, -0.010, -0.008, -0.006, -0.004, -0.002]
y_tick_text = ["\u22120.012", "", "\u22120.008", "", "\u22120.004", ""]

# ---------------- assemble ----------------
assert len(wmap_rows) == len(cbass_rows) == len(cbass_err_rows)
for i, (a, b, c) in enumerate(zip(wmap_rows, cbass_rows, cbass_err_rows)):
    assert len(a) == len(b) == len(c), (i, len(a), len(b), len(c))

wmap = [v for r in wmap_rows for v in r] + wmap_upper + wmap_right + wmap_lobe + wmap_lower
cbass = [v for r in cbass_rows for v in r] + cbass_upper + cbass_right + cbass_lobe + cbass_lower
cbass_err = [v for r in cbass_err_rows for v in r] + cbass_err_upper + cbass_err_right + cbass_err_lobe + cbass_err_lower
assert len(wmap) == len(cbass) == len(cbass_err)

x_lo, x_hi = min(wmap), max(wmap)
fit_x = [x_lo, x_hi]
fit_y = [fit_offset + fit_slope * v for v in fit_x]
band_x = [x_lo, x_hi, x_hi, x_lo, x_lo]
band_y = [band_steep_offset + band_steep_slope * x_lo,
          band_steep_offset + band_steep_slope * x_hi,
          band_flat_offset + band_flat_slope * x_hi,
          band_flat_offset + band_flat_slope * x_lo,
          band_steep_offset + band_steep_slope * x_lo]

fig = go.Figure()
fig.add_trace(go.Scatter(
    x=wmap, y=cbass, mode="markers",
    marker=dict(size=2, color="black"),
    error_y=dict(type="data", array=cbass_err, visible=True, color="black", thickness=3.2, width=0),
    error_x=dict(type="constant", value=wmap_err, visible=True, color="black", thickness=3.2, width=0),
    showlegend=False, hoverinfo="skip"))
fig.add_trace(go.Scatter(
    x=band_x, y=band_y, mode="lines", fill="toself",
    fillcolor="rgba(128,0,128,0.9)",
    line=dict(color="rgba(128,0,128,0.45)", width=3),
    showlegend=False, hoverinfo="skip"))
fig.add_trace(go.Scatter(
    x=fit_x, y=fit_y, mode="lines", name=fit_label,
    line=dict(color="#00ffff", width=2.5),
    showlegend=False, hoverinfo="skip"))

SERIF = "Liberation Serif"
fig.update_layout(
    width=867, height=814,
    margin=dict(l=198, r=0, t=15, b=97, pad=0, autoexpand=False),
    paper_bgcolor="white", plot_bgcolor="white",
    showlegend=False,
    font=dict(family=SERIF, color="black"),
)
fig.update_xaxes(
    range=[1.089e-4, 7.752e-4], automargin=False,
    tickmode="array", tickvals=x_tick_vals, ticktext=x_tick_text,
    ticks="outside", ticklen=9, tickwidth=1.6, tickcolor="black",
    showgrid=True, gridcolor="#b0b0b0", gridwidth=1.5,
    showline=True, linecolor="black", linewidth=1.6, mirror=True,
    zeroline=False, tickfont=dict(family=SERIF, size=33, color="black"),
    ticklabelstandoff=9,
)
fig.update_yaxes(
    range=[-0.012295, -0.001972], automargin=False,
    tickmode="array", tickvals=y_tick_vals, ticktext=y_tick_text,
    ticks="outside", ticklen=9, tickwidth=1.6, tickcolor="black",
    showgrid=True, gridcolor="#b0b0b0", gridwidth=1.5,
    showline=True, linecolor="black", linewidth=1.6, mirror=False,
    zeroline=False, tickfont=dict(family=SERIF, size=33, color="black"),
    ticklabelstandoff=5,
    title=dict(text="C-BASS [K]", font=dict(family=SERIF, size=46, color="black"), standoff=8),
)

# x-axis title, placed below the tick labels
fig.add_annotation(xref="paper", yref="paper", x=0.5, y=-0.0969,
                   xanchor="center", yanchor="middle", showarrow=False,
                   text="<i>WMAP</i> K-band [K]", font=dict(family=SERIF, size=45, color="black"))

# legend (drawn by hand so that the sample line has matplotlib's length)
fig.add_shape(type="rect", xref="paper", yref="paper",
              x0=0.1749, x1=0.9716, y0=0.0128, y1=0.1453,
              fillcolor="rgba(255,255,255,0.8)", line=dict(color="rgba(215,215,215,0.8)", width=1),
              layer="above")
fig.add_shape(type="line", xref="paper", yref="paper",
              x0=0.1928, x1=0.3124, y0=0.0883, y1=0.0883,
              line=dict(color="#00ffff", width=2.5), layer="above")
fig.add_annotation(xref="paper", yref="paper", x=0.3617, y=0.0883,
                   xanchor="left", yanchor="middle", showarrow=False,
                   text=fit_label, font=dict(family=SERIF, size=39.5, color="black"))

# title mostly cut off at the top of the image
fig.add_annotation(xref="paper", yref="paper", x=0.444, y=1.0142,
                   xanchor="center", yanchor="bottom", showarrow=False,
                   text="g", font=dict(family=SERIF, size=42, color="black"))

fig.write_html("out.html")
